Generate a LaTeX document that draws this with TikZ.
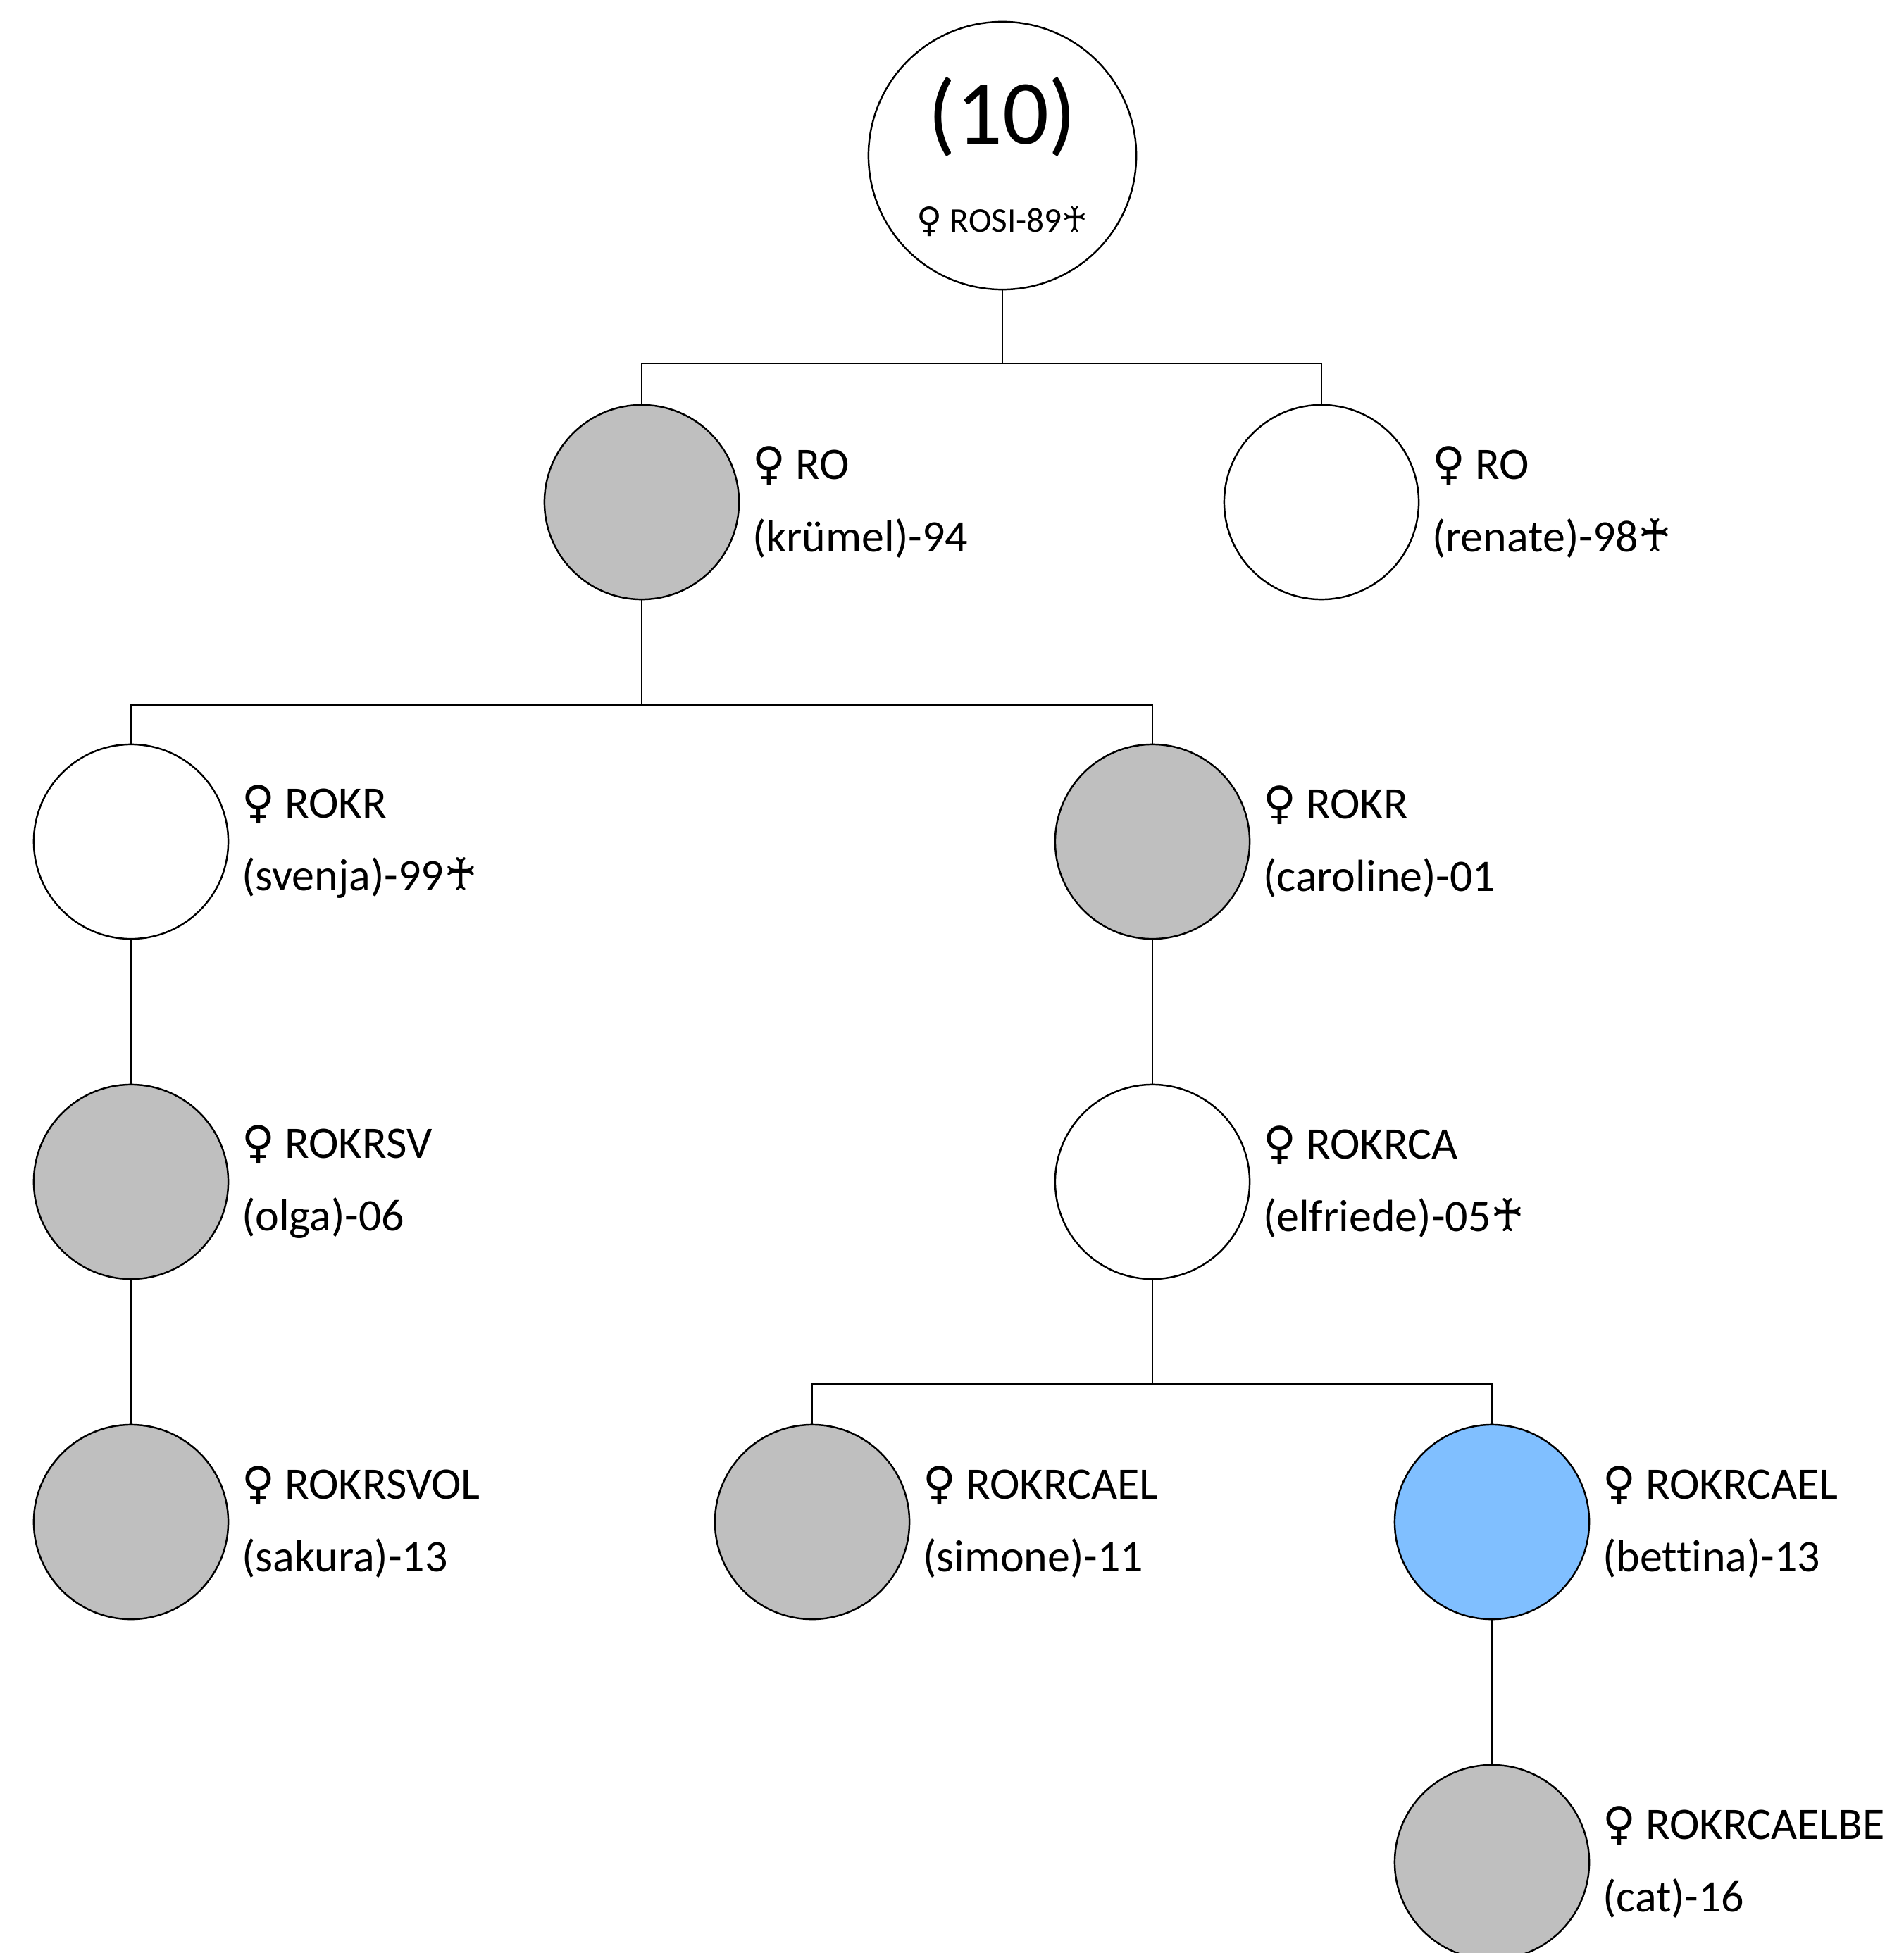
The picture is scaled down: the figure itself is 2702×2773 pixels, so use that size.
\documentclass[tikz,border=0pt]{standalone}
\usepackage{fontspec}
\setmainfont{Carlito}[RawFeature={-liga;-clig;-calt;-dlig}]
\newfontfamily\symfont{DejaVu Sans}
\usetikzlibrary{positioning}
\definecolor{nodegrey}{HTML}{BFBFBF}
\definecolor{nodeblue}{HTML}{80BFFF}
\newcommand\fem{{\symfont ♀}}
\newcommand\deceased{{\symfont ♰}}
\tikzset{
	pers/.style={circle,draw,line width=0.7pt,minimum size=2.76cm,inner sep=0pt,fill=white},
	gpers/.style={pers,fill=nodegrey},
	bpers/.style={pers,fill=nodeblue},
	info/.style={align=left,inner sep=0pt,font=\fontsize{18.2}{29.3}\selectfont},
	link/.style={line width=0.6pt}
}

\begin{document}
\begin{tikzpicture}[x=0.01cm,y=-0.01cm]
	\useasboundingbox (0,0) rectangle (2702,2773);

	% root
	\node [pers,minimum size=3.8cm] (rosi) at (1423,221) {};
	\node [font=\fontsize{37}{44}\selectfont] (rosinum) at (1423,166) {(10)};
	\node [font=\fontsize{14}{17}\selectfont] (rosiname) at (1423,315) {\fem\ ROSI-89\deceased};

	% generations
	\node [gpers] (kruemel) at (911,713) {};
	\node [pers] (renate) at (1876,713) {};
	\node [pers] (svenja) at (186,1195) {};
	\node [gpers] (caroline) at (1636,1195) {};
	\node [gpers] (olga) at (186,1678) {};
	\node [pers] (elfriede) at (1636,1678) {};
	\node [gpers] (sakura) at (186,2161) {};
	\node [gpers] (simone) at (1153,2161) {};
	\node [bpers] (bettina) at (2118,2161) {};
	\node [gpers] (cat) at (2118,2644) {};

	% labels
	\node [info,right=0.17cm of kruemel] {\fem\ RO\\(krümel)-94};
	\node [info,right=0.17cm of renate] {\fem\ RO\\(renate)-98\deceased};
	\node [info,right=0.17cm of svenja] {\fem\ ROKR\\(svenja)-99\deceased};
	\node [info,right=0.17cm of caroline] {\fem\ ROKR\\(caroline)-01};
	\node [info,right=0.17cm of olga] {\fem\ ROKRSV\\(olga)-06};
	\node [info,right=0.17cm of elfriede] {\fem\ ROKRCA\\(elfriede)-05\deceased};
	\node [info,right=0.17cm of sakura] {\fem\ ROKRSVOL\\(sakura)-13};
	\node [info,right=0.17cm of simone] {\fem\ ROKRCAEL\\(simone)-11};
	\node [info,right=0.17cm of bettina] {\fem\ ROKRCAEL\\(bett\kern0pt ina)-13};
	\node [info,right=0.17cm of cat] {\fem\ ROKRCAELBE\\(cat)-16};

	% branches
	\coordinate (b1) at (1423,516);
	\coordinate (b2) at (911,1001);
	\coordinate (b3) at (1636,1965);
	\draw [link] (rosi) -- (b1);
	\draw [link] (kruemel.north) |- (b1) -| (renate.north);
	\draw [link] (kruemel) -- (b2);
	\draw [link] (svenja.north) |- (b2) -| (caroline.north);
	\draw [link] (svenja) -- (olga);
	\draw [link] (olga) -- (sakura);
	\draw [link] (caroline) -- (elfriede);
	\draw [link] (elfriede) -- (b3);
	\draw [link] (simone.north) |- (b3) -| (bettina.north);
	\draw [link] (bettina) -- (cat);
\end{tikzpicture}
\end{document}
